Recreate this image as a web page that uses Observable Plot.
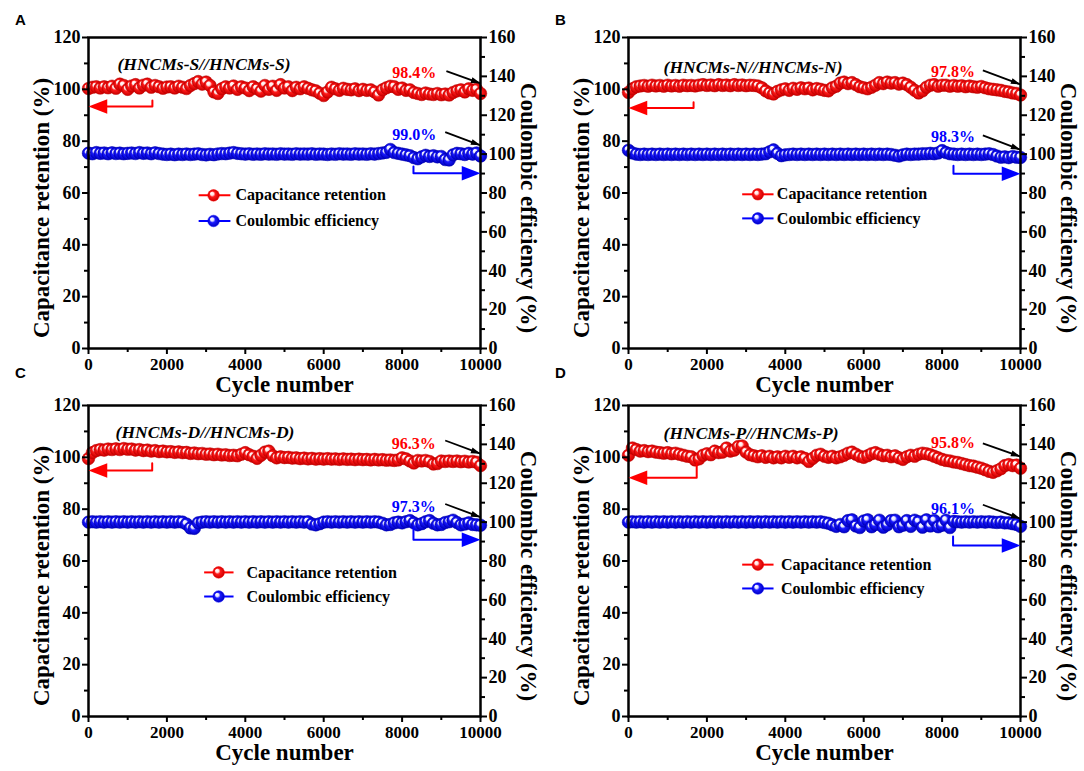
<!DOCTYPE html>
<html><head><meta charset="utf-8">
<script src="https://cdn.jsdelivr.net/npm/d3@7"></script>
<script src="https://cdn.jsdelivr.net/npm/@observablehq/plot@0.6"></script>
<style>
body{margin:0;background:#fff;}
#wrap{position:relative;width:1084px;height:771px;overflow:hidden;background:#fff;}
.panel{position:absolute;}
.letter{position:absolute;font-family:"Liberation Sans",Arial,sans-serif;font-weight:bold;font-size:15px;line-height:15px;}
</style></head><body>
<svg width="0" height="0" style="position:absolute">
<defs>
<radialGradient id="gRed" cx="0.5" cy="0.5" r="0.5" fx="0.32" fy="0.3">
<stop offset="0" stop-color="#ffffff"/><stop offset="0.28" stop-color="#ffe4e4"/><stop offset="0.5" stop-color="#ff1a1a"/><stop offset="1" stop-color="#c80000"/>
</radialGradient>
<radialGradient id="gBlue" cx="0.5" cy="0.5" r="0.5" fx="0.32" fy="0.3">
<stop offset="0" stop-color="#ffffff"/><stop offset="0.28" stop-color="#e4e4ff"/><stop offset="0.5" stop-color="#1a1aff"/><stop offset="1" stop-color="#0000c0"/>
</radialGradient>
</defs></svg>
<div id="wrap"></div>
<script>
// ---------- data ----------
const cycles = d3.range(0, 10001, 100);
const xMajor = [0, 2000, 4000, 6000, 8000, 10000];
const xMinor = [1000, 3000, 5000, 7000, 9000];
const yMajor = [0, 20, 40, 60, 80, 100, 120];
const yMinor = [10, 30, 50, 70, 90, 110];
const rightMajor = [0, 20, 40, 60, 80, 100, 120, 140, 160];
const rightMinor = [10, 30, 50, 70, 90, 110, 130, 150];

const capA = [100.3,100.8,101.0,100.5,101.0,100.6,101.2,100.4,102.0,101.5,100.0,
101.3,101.8,100.5,101.6,102.0,100.8,101.5,101.0,100.4,100.9,
101.0,100.5,101.2,100.8,100.3,101.5,102.2,103.0,102.0,102.8,
101.5,99.0,98.4,100.2,101.0,100.5,101.3,100.0,101.0,100.5,
99.5,101.0,100.2,99.3,101.5,100.0,101.2,99.6,101.8,100.5,
101.0,99.5,100.8,100.2,101.0,100.4,99.8,99.4,98.5,97.6,
99.0,100.8,100.2,99.6,100.4,100.0,99.8,100.2,99.5,100.0,
99.6,99.8,99.0,97.8,99.8,100.6,101.2,101.0,100.0,100.5,
99.6,99.8,98.8,98.4,98.0,98.6,98.2,98.0,98.4,97.9,
98.2,97.8,98.8,99.4,99.8,99.0,100.2,99.6,100.0,98.4];
const ceA = [100.5,100.2,100.8,100.4,100.6,100.2,100.7,100.3,100.5,100.2,100.4,
100.6,100.3,100.8,100.4,100.6,100.2,100.7,100.3,100.0,99.8,
100.0,99.7,100.0,99.8,100.1,99.8,100.0,100.2,99.8,99.6,
99.9,99.7,100.1,100.3,100.2,100.5,100.8,100.4,100.2,100.0,
100.2,99.9,100.1,99.9,100.2,100.0,100.1,99.9,100.2,100.0,
100.1,99.9,100.2,100.0,100.1,100.0,100.2,99.9,100.1,100.0,
99.8,100.1,99.9,100.2,100.0,100.1,99.9,100.2,100.0,100.1,
99.9,100.2,100.0,100.3,100.6,100.9,102.4,100.8,100.4,100.0,
99.6,99.2,98.2,97.6,98.6,99.4,98.8,99.2,98.6,98.8,
97.2,97.0,99.6,100.4,100.2,99.8,100.4,100.0,100.6,99.0];

const capB = [98.8,100.2,101.0,101.3,101.5,101.2,101.6,101.3,101.5,101.2,101.6,
101.3,101.5,101.2,101.6,101.4,101.5,101.3,101.6,101.8,101.5,
101.7,101.4,101.8,101.5,101.7,101.4,101.8,101.5,101.7,101.4,
101.6,101.5,101.3,100.6,99.4,98.6,98.2,99.2,99.8,100.2,
99.6,100.4,100.0,100.6,100.2,100.5,99.8,100.3,100.0,99.6,
99.4,100.6,101.2,102.4,102.8,102.2,102.6,101.8,101.0,100.6,
100.2,100.8,101.6,102.6,102.2,102.8,102.4,102.6,102.0,102.4,
101.8,100.8,99.6,98.6,99.4,100.8,101.6,101.8,101.2,101.6,
101.6,101.2,101.5,101.2,101.4,101.0,101.3,101.0,100.8,101.1,
100.6,100.2,100.0,99.8,99.6,99.2,99.0,98.6,98.4,97.8];
const ceB = [102.0,100.6,100.0,99.8,100.0,99.8,100.0,99.8,100.0,99.8,100.0,
99.8,100.0,99.8,100.0,99.8,100.0,99.8,100.0,99.8,100.0,
99.8,100.0,99.8,100.0,99.8,100.0,99.8,100.0,99.8,100.0,
99.8,100.0,99.8,100.0,100.2,101.2,102.2,100.4,99.2,99.6,
99.8,100.0,99.8,100.0,99.8,100.0,99.8,100.0,99.8,100.0,
99.8,100.0,99.8,100.0,99.8,100.0,99.8,100.0,99.8,100.0,
99.8,100.0,99.8,100.0,99.8,100.0,99.8,99.4,99.0,99.6,
100.0,99.8,100.0,100.0,100.2,100.2,100.4,100.2,100.6,101.8,
100.8,100.2,100.0,99.8,100.0,99.8,100.0,99.8,100.0,99.8,
100.0,100.2,99.8,99.0,98.4,98.6,98.2,98.8,98.4,98.3];

const capC = [99.5,101.8,102.6,103.0,102.8,103.2,103.0,103.3,103.0,103.4,103.1,
103.2,102.8,103.0,102.6,102.8,102.4,102.6,102.2,102.4,102.1,
102.2,101.9,102.1,101.8,101.9,101.5,101.7,101.4,101.5,101.2,
101.3,101.0,101.2,100.9,101.0,100.7,100.8,100.6,101.2,101.8,
101.0,100.4,99.6,100.8,102.0,102.4,100.6,99.8,100.2,99.9,
100.0,99.7,99.8,99.5,99.7,99.4,99.6,99.3,99.5,99.3,
99.5,99.3,99.4,99.2,99.4,99.2,99.3,99.1,99.3,99.1,
99.2,99.0,99.2,99.0,99.1,98.9,99.0,98.8,99.0,99.8,
99.4,98.6,97.8,98.8,98.6,98.8,98.4,97.4,97.6,98.6,
98.4,98.6,98.4,98.6,98.3,98.5,98.2,98.4,98.1,96.8];
const ceC = [100.0,100.2,100.0,100.2,100.0,100.2,100.0,100.2,100.0,100.2,100.0,
100.2,100.0,100.2,100.0,100.2,100.0,100.2,100.0,100.2,100.0,
100.2,100.0,100.2,100.0,99.0,97.0,96.8,99.6,100.0,100.2,
100.0,100.2,100.0,100.2,100.0,100.2,100.0,100.2,100.0,100.2,
100.0,100.2,100.0,100.2,100.0,100.2,100.0,100.2,100.0,100.2,
100.0,100.2,100.0,100.2,100.0,100.2,99.0,98.6,99.2,100.0,
100.2,100.0,100.2,100.0,100.2,100.0,100.2,100.0,100.2,100.0,
100.2,100.0,100.2,100.0,99.4,98.6,98.8,99.6,100.0,99.6,
100.2,100.8,99.6,98.6,99.2,100.2,100.8,99.4,98.6,98.8,
99.8,100.2,101.0,99.8,98.6,99.0,99.6,98.8,98.6,98.4];

const capD = [100.8,103.6,103.0,102.4,102.6,102.2,102.4,102.0,101.8,101.6,101.8,
101.4,101.6,101.2,100.8,100.4,100.2,99.0,99.4,100.8,101.4,
101.0,102.4,101.8,102.0,103.6,102.4,102.8,104.2,104.4,102.0,
101.0,100.6,100.2,100.6,100.0,100.4,99.8,100.2,99.8,100.4,
100.0,100.4,99.8,100.2,99.6,98.4,99.6,100.8,101.2,100.4,
100.0,100.4,99.8,100.2,100.8,101.6,102.0,101.2,100.4,100.0,
100.6,101.4,101.8,101.2,100.6,100.8,100.2,100.6,99.8,99.2,
100.2,100.8,100.4,101.2,101.6,101.4,101.0,100.4,99.8,99.2,
98.8,98.6,98.2,98.0,97.6,97.2,96.8,96.6,96.2,95.8,
95.2,94.6,94.2,94.8,95.6,96.8,97.2,96.8,97.0,95.8];
const ceD = [100.0,100.2,100.0,100.2,100.0,100.2,100.0,100.2,100.0,100.2,100.0,
100.2,100.0,100.2,100.0,100.2,100.0,100.2,100.0,100.2,100.0,
100.2,100.0,100.2,100.0,100.2,100.0,100.2,100.0,100.2,100.0,
100.2,100.0,100.2,100.0,100.2,100.0,100.2,100.0,100.2,100.0,
100.2,100.0,100.2,100.0,100.2,100.0,100.2,100.0,100.2,99.8,
99.4,98.6,97.8,98.8,97.6,100.8,101.2,98.0,97.2,100.6,
101.2,97.6,98.8,101.0,97.4,98.6,100.8,101.0,97.6,98.4,
100.8,97.8,101.0,100.2,97.4,101.2,98.0,100.8,97.6,98.4,
101.0,97.2,100.4,100.2,100.0,100.2,100.0,100.2,100.0,100.2,
100.0,100.2,100.0,99.8,100.0,99.6,99.6,99.2,98.8,97.8];

const legendNames = ["Capacitance retention", "Coulombic efficiency"];

// annotation anchors (data units: cycles, left-axis %)
const panels = [
  {letter:"A", left:0, top:0, title:"(HNCMs-S//HNCMs-S)", cap:capA, ce:ceA,
   capLabel:"98.4%", ceLabel:"99.0%",
   titleAt:[740,109.7], capLabelAt:[8310,106.3], ceLabelAt:[8310,82.6],
   blackCap:[9130,107.0,10000,102.3], blackCe:[9100,83.5,10000,78.4],
   redArrow:[1630,95.7,93.4], blueArrow:[8290,70.2,67.6],
   legend:{dot:3190, line:[2810,3620], text:3750, y:[59.1,49.2]}},
  {letter:"B", left:540, top:0, title:"(HNCMs-N//HNCMs-N)", cap:capB, ce:ceB,
   capLabel:"97.8%", ceLabel:"98.3%",
   titleAt:[895,108.6], capLabelAt:[8280,106.7], ceLabelAt:[8280,81.8],
   blackCap:[9040,107.3,10000,101.9], blackCe:[9040,82.2,10000,76.7],
   redArrow:[1660,95.0,92.8], blueArrow:[8290,70.5,67.4],
   legend:{dot:3300, line:[2900,3700], text:3785, y:[59.5,50.2]}},
  {letter:"C", left:0, top:368, title:"(HNCMs-D//HNCMs-D)", cap:capC, ce:ceC,
   capLabel:"96.3%", ceLabel:"97.3%",
   titleAt:[690,109.7], capLabelAt:[8300,105.2], ceLabelAt:[8300,81.0],
   blackCap:[9100,106.5,10000,101.4], blackCe:[9100,82.0,10000,76.9],
   redArrow:[1625,97.7,94.9], blueArrow:[8290,72.9,68.2],
   legend:{dot:3320, line:[2950,3700], text:4030, y:[55.6,46.3]}},
  {letter:"D", left:540, top:368, title:"(HNCMs-P//HNCMs-P)", cap:capD, ce:ceD,
   capLabel:"95.8%", ceLabel:"96.1%",
   titleAt:[895,109.3], capLabelAt:[8280,105.4], ceLabelAt:[8280,80.1],
   blackCap:[9040,105.4,10000,100.3], blackCe:[9040,81.7,10000,76.3],
   redArrow:[1740,97.8,92.1], blueArrow:[8280,69.5,66.0],
   legend:{dot:3300, line:[2900,3700], text:3890, y:[58.6,49.4]}}
];

// ---------- drawing ----------
const W = 542, H = 400, ML = 88, MR = 62, MT = 37, MB = 52;
const innerW = W - ML - MR, innerH = H - MT - MB;
const kX = innerW / 10000, kY = innerH / 120;
const ceToLeft = v => v * 120 / 160;
const RED = "#ff0000", BLUE = "#0000ff";
const FONT = "'Liberation Serif','Times New Roman',serif";

function head(ratio) {
  return {draw(ctx, size) {
    const s = Math.sqrt(size / Math.PI);
    ctx.moveTo(0, 0); ctx.lineTo(-ratio * s, -s); ctx.lineTo(-ratio * s, s); ctx.closePath();
  }};
}
const bigHead = head(2.6), thinHead = head(3.2);

const wrap = document.getElementById("wrap");

for (const p of panels) {
  const rows = cycles.map((c, i) => ({c, cap: p.cap[i], ce: ceToLeft(p.ce[i])}));
  const blacks = [p.blackCap, p.blackCe].map(a => ({x1:a[0], y1:a[1], x2:a[2], y2:a[3],
    ang: Math.atan2((a[1]-a[3])*kY, (a[2]-a[0])*kX) * 180 / Math.PI}));
  const redPath = [{x:p.redArrow[0], y:p.redArrow[1]}, {x:p.redArrow[0], y:p.redArrow[2]}, {x:400, y:p.redArrow[2]}];
  const bluePath = [{x:p.blueArrow[0], y:p.blueArrow[1]}, {x:p.blueArrow[0], y:p.blueArrow[2]}, {x:9600, y:p.blueArrow[2]}];
  const heads = [{x:0, y:p.redArrow[2], ang:180, col:RED}, {x:10000, y:p.blueArrow[2], ang:0, col:BLUE}];
  const L = p.legend;
  const legRows = [
    {y:L.y[0], col:RED, grad:"url(#gRed)", name:legendNames[0]},
    {y:L.y[1], col:BLUE, grad:"url(#gBlue)", name:legendNames[1]}
  ];
  const labels = [
    {x:p.capLabelAt[0], y:p.capLabelAt[1], t:p.capLabel, col:RED},
    {x:p.ceLabelAt[0], y:p.ceLabelAt[1], t:p.ceLabel, col:BLUE}
  ];

  const svg = Plot.plot({
    width: W, height: H,
    marginLeft: ML, marginRight: MR, marginTop: MT, marginBottom: MB,
    x: {domain: [0, 10000]},
    y: {domain: [0, 120]},
    style: {fontFamily: FONT, fontWeight: "bold", fontSize: "18px", color: "black", background: "transparent", overflow: "visible"},
    marks: [
      // series
      Plot.line(rows, {x: "c", y: "cap", stroke: RED, strokeWidth: 1.5}),
      Plot.dot(rows, {x: "c", y: "cap", r: 6.3, fill: "url(#gRed)", stroke: "#c00000", strokeWidth: 0.5}),
      Plot.line(rows, {x: "c", y: "ce", stroke: BLUE, strokeWidth: 1.5}),
      Plot.dot(rows, {x: "c", y: "ce", r: 6.3, fill: "url(#gBlue)", stroke: "#0000b0", strokeWidth: 0.5}),
      // frame & axes
      Plot.frame({stroke: "black", strokeWidth: 2.5}),
      Plot.axisX(xMajor, {tickSize: 6, tickPadding: 3, strokeWidth: 2, label: null, fontSize: 17, tickFormat: d => String(d)}),
      Plot.axisX(xMinor, {tickSize: 4, strokeWidth: 2, label: null, tickFormat: () => ""}),
      Plot.axisY(yMajor, {tickSize: 6, tickPadding: 2, strokeWidth: 2, label: null, tickFormat: d => String(d)}),
      Plot.axisY(yMinor, {tickSize: 4, strokeWidth: 2, label: null, tickFormat: () => ""}),
      Plot.axisY(rightMajor.map(ceToLeft), {anchor: "right", tickSize: 6, tickPadding: 2, strokeWidth: 2, label: null,
        tickFormat: d => String(Math.round(d * 160 / 120))}),
      Plot.axisY(rightMinor.map(ceToLeft), {anchor: "right", tickSize: 4, strokeWidth: 2, label: null, tickFormat: () => ""}),
      // axis titles
      Plot.text(["Capacitance retention (%)"], {text: d => d, frameAnchor: "left", textAnchor: "middle", lineAnchor: "middle", rotate: -90, dx: -47, dy: 15, fontSize: 23}),
      Plot.text(["Coulombic efficiency (%)"], {text: d => d, frameAnchor: "right", textAnchor: "middle", lineAnchor: "middle", rotate: 90, dx: 48, dy: 15, fontSize: 23}),
      Plot.text(["Cycle number"], {text: d => d, frameAnchor: "bottom", textAnchor: "middle", lineAnchor: "top", dy: 27, fontSize: 23}),
      // panel title
      Plot.text([{x: p.titleAt[0], y: p.titleAt[1], t: p.title}], {x: "x", y: "y", text: "t", textAnchor: "start", fontSize: 17.5, fontStyle: "italic"}),
      // value labels
      Plot.text(labels, {x: "x", y: "y", text: "t", fill: "col", fontSize: 16}),
      // black arrows
      Plot.link(blacks, {x1: "x1", y1: "y1", x2: "x2", y2: "y2", stroke: "black", strokeWidth: 1.8}),
      Plot.dot(blacks, {x: "x2", y: "y2", r: 3, symbol: thinHead, rotate: "ang", fill: "black", stroke: "none"}),
      // red / blue axis arrows
      Plot.line(redPath, {x: "x", y: "y", stroke: RED, strokeWidth: 2}),
      Plot.line(bluePath, {x: "x", y: "y", stroke: BLUE, strokeWidth: 2}),
      Plot.dot(heads, {x: "x", y: "y", r: 7.2, symbol: bigHead, rotate: "ang", fill: "col", stroke: "none"}),
      // legend
      Plot.link(legRows, {x1: () => L.line[0], x2: () => L.line[1], y1: "y", y2: "y", stroke: "col", strokeWidth: 2}),
      Plot.dot(legRows, {x: () => L.dot, y: "y", r: 5.8, fill: "grad", stroke: "col", strokeWidth: 0.5}),
      Plot.text(legRows, {x: () => L.text, y: "y", text: "name", textAnchor: "start", fontSize: 16})
    ]
  });
  const div = document.createElement("div");
  div.className = "panel";
  div.style.left = p.left + "px";
  div.style.top = p.top + "px";
  div.appendChild(svg);
  wrap.appendChild(div);

  const lt = document.createElement("div");
  lt.className = "letter";
  lt.textContent = p.letter;
  lt.style.left = (p.left + 15) + "px";
  lt.style.top = (p.top === 0 ? 12 : 365) + "px";
  wrap.appendChild(lt);
}
</script></body></html>
